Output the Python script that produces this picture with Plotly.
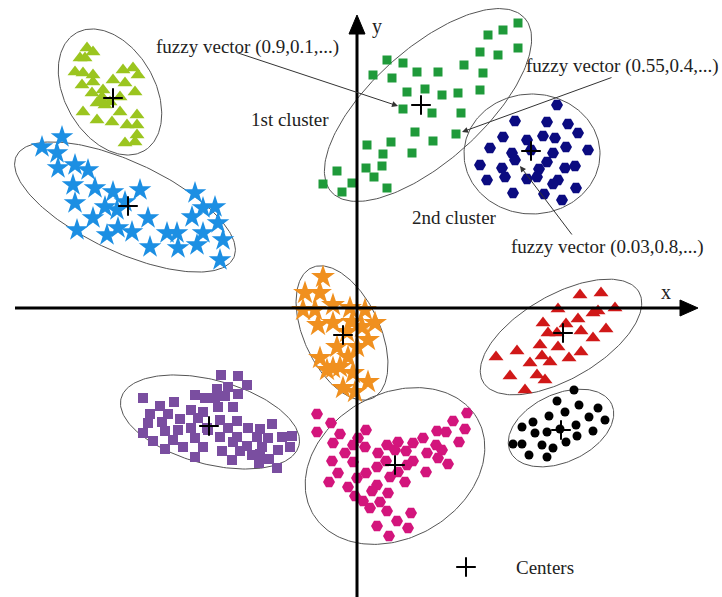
import numpy as np
import plotly.graph_objects as go

# ---- data (pixel-like coordinates, origin top-left, y downward) ----
lime_x = [87, 93, 80, 85, 75, 83, 93, 123, 133, 138, 113, 125, 82, 93, 92, 103, 102, 97, 135, 105, 110, 120, 83, 97, 112, 120, 137, 127, 137, 137, 125, 135, 102]
lime_y = [48, 52, 58, 58, 72, 73, 75, 70, 68, 75, 80, 83, 85, 82, 93, 90, 97, 103, 92, 105, 102, 97, 112, 120, 122, 112, 115, 125, 125, 135, 143, 142, 102]

blue_x = [62, 42, 57, 58, 75, 88, 73, 95, 113, 140, 75, 105, 117, 125, 93, 77, 107, 118, 132, 148, 167, 177, 150, 178, 195, 203, 215, 192, 218, 203, 197, 223, 220]
blue_y = [137, 147, 153, 168, 165, 170, 185, 188, 192, 190, 203, 207, 210, 202, 218, 230, 235, 228, 232, 218, 233, 233, 247, 248, 193, 208, 207, 217, 223, 233, 245, 240, 260]

green_x = [518, 503, 488, 518, 480, 498, 464, 483, 387, 403, 373, 392, 417, 438, 407, 425, 442, 458, 480, 403, 432, 461, 415, 433, 456, 367, 391, 383, 412, 366, 382, 337, 374, 352, 323, 342, 387]
green_y = [23, 30, 35, 48, 52, 55, 65, 73, 60, 63, 75, 78, 72, 72, 92, 89, 95, 93, 90, 109, 113, 113, 132, 141, 134, 145, 142, 154, 153, 168, 166, 171, 177, 183, 184, 192, 188]

navy_x = [557, 515, 547, 568, 578, 503, 527, 543, 555, 490, 512, 531, 566, 588, 553, 480, 515, 502, 547, 539, 565, 575, 505, 487, 527, 537, 558, 553, 513, 544, 562, 576]
navy_y = [105, 121, 122, 124, 133, 137, 140, 136, 138, 148, 153, 150, 147, 150, 153, 165, 160, 168, 162, 169, 168, 166, 177, 180, 179, 177, 180, 184, 193, 194, 200, 188]

orange_x = [323, 305, 320, 333, 303, 315, 350, 365, 318, 333, 352, 362, 375, 347, 368, 337, 357, 320, 348, 333, 340, 353, 368, 343, 355, 327]
orange_y = [277, 293, 293, 305, 310, 310, 308, 310, 325, 323, 322, 327, 323, 332, 340, 347, 347, 358, 357, 368, 367, 373, 382, 388, 392, 370]

red_x = [580, 601, 558, 593, 598, 615, 543, 566, 578, 548, 557, 581, 606, 593, 540, 558, 517, 496, 542, 569, 581, 550, 530, 510, 537, 545, 525]
red_y = [295, 293, 309, 313, 311, 308, 323, 324, 319, 333, 333, 331, 329, 338, 345, 347, 351, 357, 356, 358, 352, 362, 363, 376, 375, 380, 390]

black_x = [574, 557, 579, 598, 565, 549, 589, 605, 533, 522, 576, 560, 547, 535, 593, 577, 566, 542, 553, 513, 522, 529, 547]
black_y = [390, 401, 405, 408, 412, 416, 417, 420, 422, 427, 425, 429, 432, 433, 431, 436, 442, 445, 448, 444, 444, 455, 457]

purple_x = [221, 238, 247, 217, 228, 143, 195, 205, 215, 225, 238, 160, 174, 218, 233, 150, 168, 191, 203, 148, 162, 180, 198, 220, 237, 272, 143, 165, 178, 191, 207, 228, 248, 260, 153, 173, 195, 208, 220, 237, 257, 268, 282, 292, 165, 183, 203, 233, 247, 262, 290, 195, 222, 240, 252, 260, 278, 232, 259, 269, 277]
purple_y = [375, 376, 385, 389, 387, 398, 395, 398, 398, 396, 394, 406, 402, 407, 407, 414, 414, 410, 412, 423, 422, 419, 418, 420, 421, 424, 433, 431, 430, 428, 428, 428, 428, 429, 441, 440, 438, 430, 437, 437, 437, 438, 437, 436, 449, 447, 447, 442, 446, 447, 447, 457, 451, 451, 455, 454, 450, 460, 463, 459, 468]

magenta_x = [317, 331, 317, 340, 358, 366, 333, 353, 365, 345, 387, 398, 395, 406, 413, 423, 437, 446, 453, 467, 465, 459, 436, 442, 427, 448, 438, 413, 407, 332, 353, 378, 386, 377, 398, 338, 366, 357, 329, 348, 390, 405, 377, 372, 355, 363, 388, 380, 370, 387, 411, 397, 377, 408, 389, 426]
magenta_y = [414, 423, 432, 434, 438, 430, 443, 445, 447, 453, 445, 442, 450, 451, 443, 438, 431, 432, 421, 413, 429, 442, 445, 450, 453, 464, 458, 461, 465, 461, 462, 453, 461, 467, 472, 473, 473, 478, 482, 487, 477, 482, 485, 491, 496, 501, 493, 502, 508, 511, 513, 521, 526, 528, 536, 472]

center_x = [113, 128, 421, 531, 343, 563, 561, 209, 395]
center_y = [98, 206, 105, 151, 335, 333, 430, 426, 465]

# ellipse outlines: (cx, cy, semi-major, semi-minor, angle deg)
ellipses = [
    (110, 92, 68, 45, 60),
    (125, 207, 120, 45, 25),
    (428, 105, 130, 56, -42),
    (532, 154, 68, 60, 0),
    (342, 333, 72, 38, 65),
    (561, 337, 90, 42, -30),
    (561, 428, 56, 34, -25),
    (210, 422, 92, 42, 15),
    (395, 466, 95, 72, -30),
]

W, H = 722, 597
SERIF = "Liberation Serif, Times New Roman, serif"

fig = go.Figure()

t = np.linspace(0, 2 * np.pi, 200)
for cx, cy, a, b, ang in ellipses:
    th = np.radians(ang)
    ex = cx + a * np.cos(t) * np.cos(th) - b * np.sin(t) * np.sin(th)
    ey = cy + a * np.cos(t) * np.sin(th) + b * np.sin(t) * np.cos(th)
    fig.add_trace(go.Scatter(x=ex, y=ey, mode="lines", line=dict(color="#555555", width=1),
                             hoverinfo="skip", showlegend=False))

clusters = [
    (lime_x, lime_y, "triangle-up", 13, "#9BC51F"),
    (blue_x, blue_y, "star", 17, "#1C8FE3"),
    (green_x, green_y, "square", 9, "#1F9A3A"),
    (navy_x, navy_y, "hexagon2", 12, "#0B0B80"),
    (orange_x, orange_y, "star", 18, "#F0901F"),
    (red_x, red_y, "triangle-up", 13, "#D01818"),
    (black_x, black_y, "circle", 9, "#000000"),
    (purple_x, purple_y, "square", 10, "#7A4EA0"),
    (magenta_x, magenta_y, "hexagon2", 12, "#D3157C"),
]
for xs, ys, sym, sz, col in clusters:
    fig.add_trace(go.Scatter(x=xs, y=ys, mode="markers",
                             marker=dict(symbol=sym, size=sz, color=col, line=dict(width=0)),
                             showlegend=False))

fig.add_trace(go.Scatter(x=center_x, y=center_y, mode="markers",
                         marker=dict(symbol="cross-thin", size=14, line=dict(color="black", width=2)),
                         showlegend=False))
# legend marker
fig.add_trace(go.Scatter(x=[466], y=[567], mode="markers",
                         marker=dict(symbol="cross-thin", size=14, line=dict(color="black", width=2)),
                         showlegend=False))

# axes (lines with arrowheads)
shapes = [
    dict(type="line", x0=15, y0=308, x1=684, y1=308, line=dict(color="black", width=3)),
    dict(type="line", x0=357, y0=597, x1=357, y1=30, line=dict(color="black", width=3)),
    dict(type="path", path="M 680 300 L 698 308 L 680 316 Z", fillcolor="black", line=dict(color="black", width=1)),
    dict(type="path", path="M 349 34 L 357 15 L 365 34 Z", fillcolor="black", line=dict(color="black", width=1)),
]

annotations = []
def txt(x, y, s, anchor="left", size=19):
    annotations.append(dict(x=x, y=y, text=s, showarrow=False, xanchor=anchor, yanchor="middle",
                            font=dict(family=SERIF, size=size, color="#222222")))

txt(154, 47, "fuzzy vector (0.9,0.1,...)")
txt(249, 119, "1st cluster")
txt(524, 66, "fuzzy vector (0.55,0.4,...)")
txt(410, 217, "2nd cluster")
txt(509, 247, "fuzzy vector (0.03,0.8,...)")
txt(514, 567, "Centers")
txt(370, 26, "y", size=20)
txt(659, 292, "x", size=20)

for (hx, hy, tx, ty) in [(398, 106, 235, 52), (462, 132, 613, 77), (520, 166, 573, 236)]:
    annotations.append(dict(x=hx, y=hy, ax=tx, ay=ty, xref="x", yref="y", axref="x", ayref="y",
                            text="", showarrow=True, arrowhead=2, arrowsize=1.2, arrowwidth=1,
                            arrowcolor="#333333"))

fig.update_layout(
    width=W, height=H, margin=dict(l=0, r=0, t=0, b=0),
    paper_bgcolor="white", plot_bgcolor="white",
    xaxis=dict(range=[0, W], visible=False, fixedrange=True),
    yaxis=dict(range=[H, 0], visible=False, fixedrange=True),
    shapes=shapes, annotations=annotations, showlegend=False,
)

fig.write_html("out.html", config={"displayModeBar": False},
               post_script="document.body.style.margin='0px';document.body.style.overflow='hidden';")
